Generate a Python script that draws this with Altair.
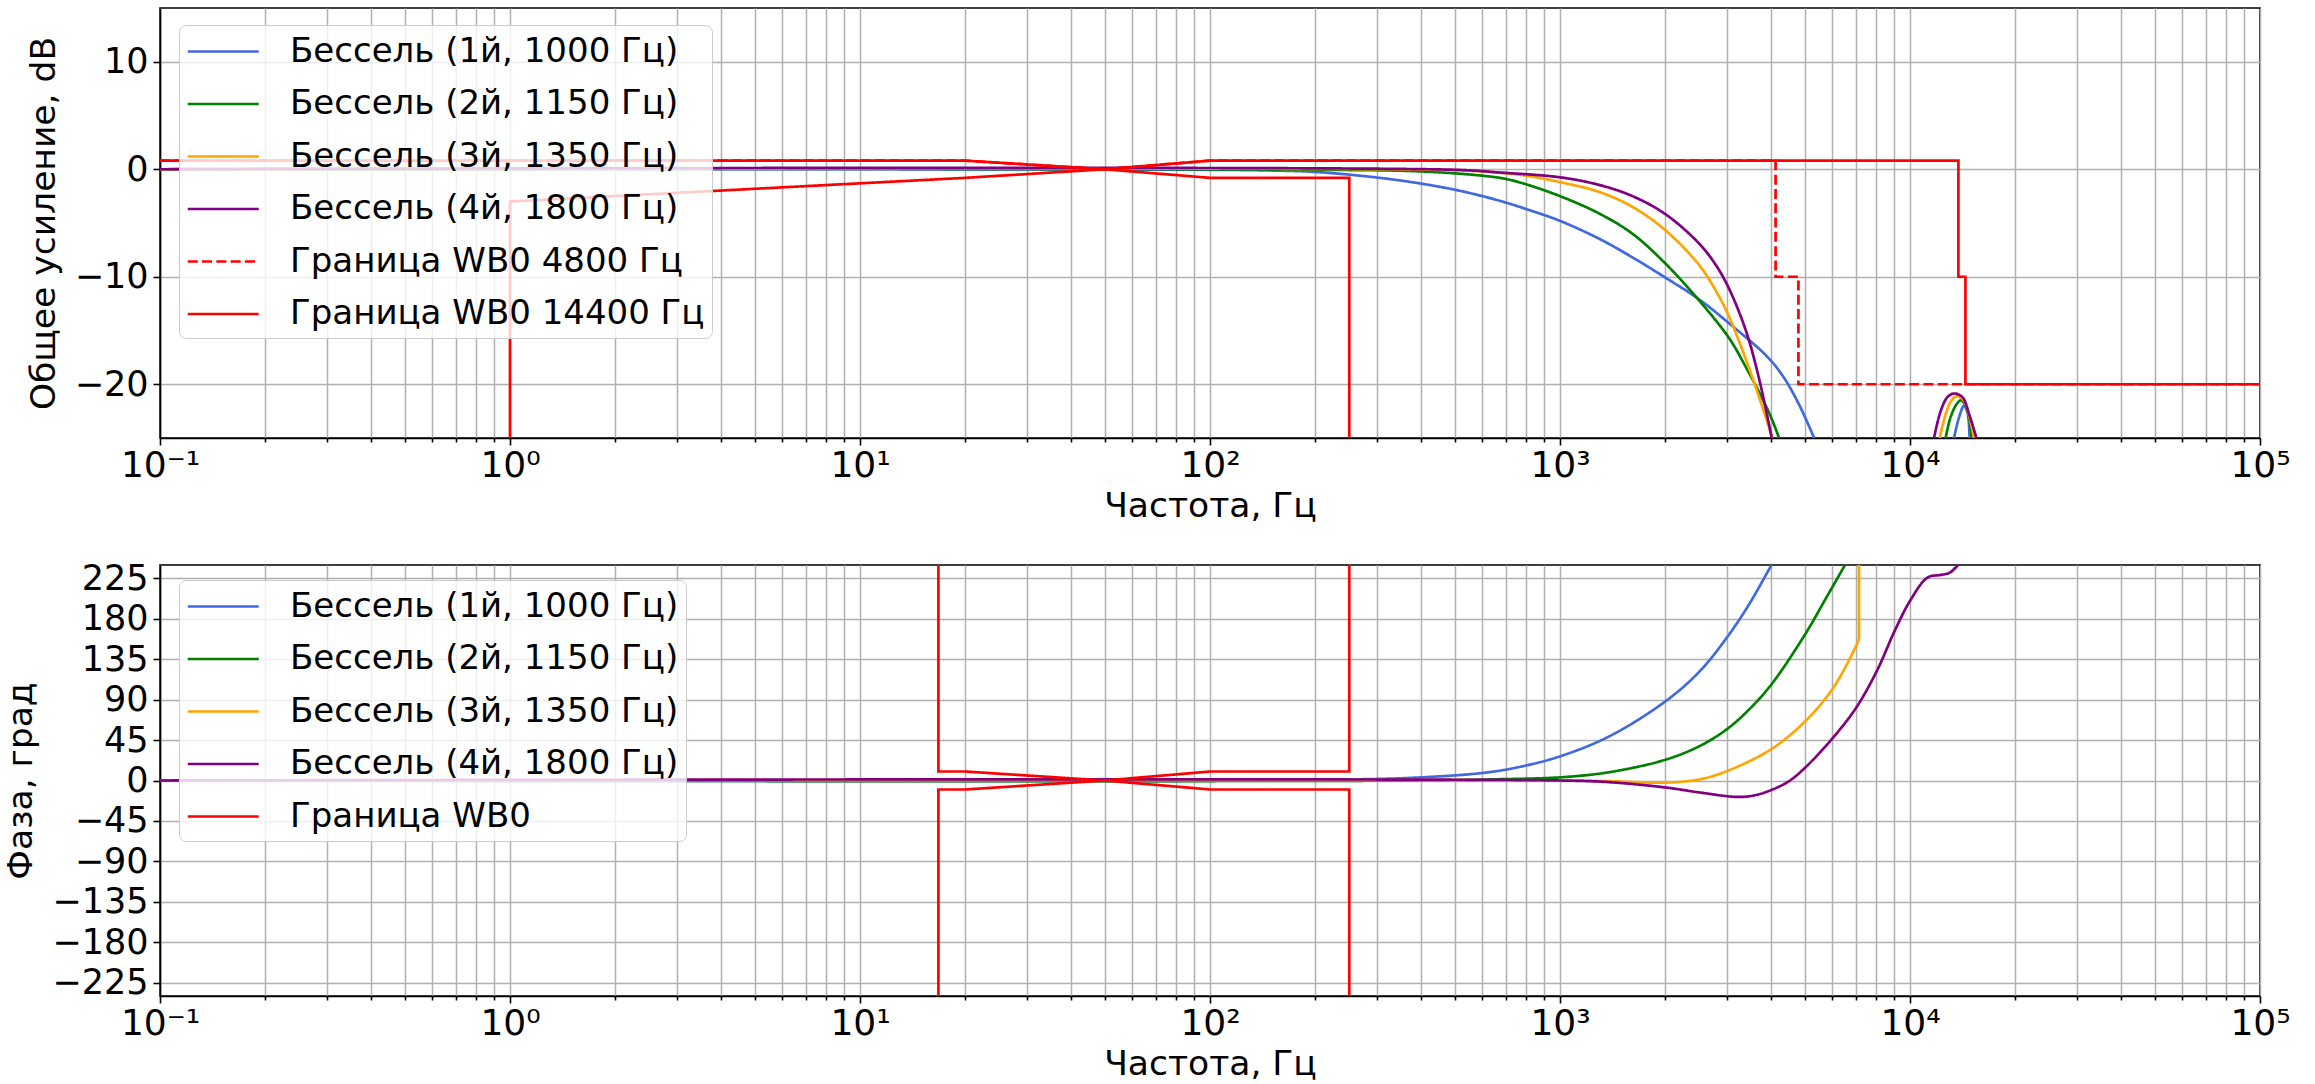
import altair as alt
import pandas as pd

FONT = "DejaVu Sans"

# ---------------- labels / colours ----------------
GAIN_LABELS = ["Бессель (1й, 1000 Гц)", "Бессель (2й, 1150 Гц)", "Бессель (3й, 1350 Гц)",
               "Бессель (4й, 1800 Гц)", "Граница WB0 4800 Гц", "Граница WB0 14400 Гц"]
PHASE_LABELS = ["Бессель (1й, 1000 Гц)", "Бессель (2й, 1150 Гц)", "Бессель (3й, 1350 Гц)",
                "Бессель (4й, 1800 Гц)", "Граница WB0"]
GAIN_COLORS = ["#4169e1", "#008000", "#ffa500", "#800080", "#ff0000", "#ff0000"]
PHASE_COLORS = ["#4169e1", "#008000", "#ffa500", "#800080", "#ff0000"]

X_TITLE = "Частота, Гц"
GAIN_TITLE = "Общее усиление, dB"
PHASE_TITLE = "Фаза, град"

DECADES = [0.1, 1, 10, 100, 1000, 10000]
MULTS = [1, 2, 3, 4, 5, 6, 7, 8, 9]
GAIN_TICKS = [-20, -10, 0, 10]
PHASE_TICKS = [-225, -180, -135, -90, -45, 0, 45, 90, 135, 180, 225]

# ---------------- gain curves (Hz, dB) ----------------
G1_F = [0.1, 100, 150, 200, 300, 400, 500, 600, 700, 800, 1000, 1300, 1611, 2005, 2496, 3111, 3873, 4325, 4822, 5322]
G1_DB = [0, -0.05, -0.12, -0.25, -0.77, -1.33, -1.9, -2.5, -3.1, -3.7, -4.8, -6.5, -8.2, -10.1, -12.1, -14.6, -17.3, -19.2, -21.9, -25]
G2_F = [0.1, 200, 400, 600, 700, 800, 1000, 1291, 1611, 2005, 2496, 3040, 3396, 3700, 4000, 4227]
G2_DB = [0, -0.05, -0.2, -0.6, -0.9, -1.4, -2.5, -4.1, -6.0, -8.8, -12.2, -15.7, -18.4, -20.7, -23.0, -25]
G3_F = [0.1, 400, 600, 800, 1000, 1291, 1611, 2005, 2496, 2787, 3040, 3548, 4046]
G3_DB = [0, -0.03, -0.2, -0.6, -1.2, -2.1, -3.5, -5.7, -8.9, -11.3, -13.7, -19.4, -25]
G4_F = [0.1, 500, 670, 1000, 1291, 1611, 2005, 2496, 2787, 3040, 3396, 3700, 4027]
G4_DB = [0, -0.05, -0.3, -0.75, -1.45, -2.5, -4.2, -6.9, -8.9, -11.1, -15.0, -19.4, -25]

# side lobes near 13-15 kHz
A1_F = [13360, 13800, 14260, 14590, 14800]
A1_DB = [-25, -23.1, -22.0, -22.6, -25]
A2_F = [12640, 13050, 13560, 13960, 14430, 14800, 15000]
A2_DB = [-25, -23.1, -21.9, -21.5, -22.0, -23.4, -25]
A3_F = [12157, 12640, 13150, 13650, 14260, 14800, 15230]
A3_DB = [-25, -22.8, -21.5, -21.1, -21.55, -23.1, -25]
A4_F = [11710, 12235, 12790, 13360, 14120, 14760, 15480]
A4_DB = [-25, -22.5, -21.2, -20.86, -21.2, -22.8, -25]

# gain masks
UP4800_F = [0.1, 20, 50, 100, 4130, 4130, 4800, 4800, 100000]
UP4800_DB = [0.8, 0.8, 0, 0.8, 0.8, -10, -10, -20, -20]
UP14400_F = [0.1, 20, 50, 100, 13750, 13750, 14400, 14400, 100000]
UP14400_DB = [0.8, 0.8, 0, 0.8, 0.8, -10, -10, -20, -20]
LOW_F = [1, 1, 20, 50, 100, 250, 250]
LOW_DB = [-25, -3, -0.8, 0, -0.8, -0.8, -25]

# ---------------- phase curves (Hz, deg) ----------------
P1_F = [0.1, 150, 237, 378, 604, 764, 1009, 1395, 2014, 2512, 2995, 3467, 4018]
P1_DEG = [0, 0, 1, 3, 8.5, 15, 27.4, 50, 89, 122, 159, 196, 240]
P2_F = [0.1, 400, 670, 1009, 1395, 2014, 2512, 2995, 3467, 4018, 5020, 5715, 6520]
P2_DEG = [0, 0, 1.4, 3.6, 9.5, 23.5, 38.6, 57, 79, 107, 163, 201, 240]
P3_F = [0.1, 1000, 1395, 2014, 2512, 3008, 4018, 5020, 6030, 7015, 7150]
P3_DEG = [0, 0, -0.8, -2.3, 1.4, 10.7, 35, 66, 103, 150, 158]
P3_JUMP_F = [7150, 7150]
P3_JUMP_DEG = [158, 240]
P4_F = [0.1, 1000, 1400, 2014, 2512, 3222, 3600, 4018, 4500, 5020, 6030, 7015, 8040, 9040, 10000, 11220, 12270, 13000, 13700]
P4_DEG = [0, 0, -2, -7.9, -13.4, -18.3, -16.5, -10.5, -1, 14.4, 47.8, 81, 122, 166.6, 200, 226, 229, 231.5, 240]

# phase masks
PUP_F = [16.75, 16.75, 20, 50, 100, 250, 250]
PUP_DEG = [240, 10, 10, 0, 10, 10, 240]
PLOW_F = [16.75, 16.75, 20, 50, 100, 250, 250]
PLOW_DEG = [-240, -10, -10, 0, -10, -10, -240]


def rows(label, seg, fs, vs):
    return [{"f": f, "v": v, "s": label, "seg": seg, "idx": i} for i, (f, v) in enumerate(zip(fs, vs))]


gain_curves = pd.DataFrame(
    rows(GAIN_LABELS[0], "a", G1_F, G1_DB) + rows(GAIN_LABELS[0], "b", A1_F, A1_DB)
    + rows(GAIN_LABELS[1], "a", G2_F, G2_DB) + rows(GAIN_LABELS[1], "b", A2_F, A2_DB)
    + rows(GAIN_LABELS[2], "a", G3_F, G3_DB) + rows(GAIN_LABELS[2], "b", A3_F, A3_DB)
    + rows(GAIN_LABELS[3], "a", G4_F, G4_DB) + rows(GAIN_LABELS[3], "b", A4_F, A4_DB)
)
gain_dashed = pd.DataFrame(rows(GAIN_LABELS[4], "up", UP4800_F, UP4800_DB))
gain_solid = pd.DataFrame(rows(GAIN_LABELS[5], "up", UP14400_F, UP14400_DB)
                          + rows(GAIN_LABELS[5], "low", LOW_F, LOW_DB))

phase_curves = pd.DataFrame(
    rows(PHASE_LABELS[0], "a", P1_F, P1_DEG) + rows(PHASE_LABELS[1], "a", P2_F, P2_DEG)
    + rows(PHASE_LABELS[2], "a", P3_F, P3_DEG) + rows(PHASE_LABELS[3], "a", P4_F, P4_DEG)
)
phase_jump = pd.DataFrame(rows(PHASE_LABELS[2], "j", P3_JUMP_F, P3_JUMP_DEG))
phase_mask = pd.DataFrame(rows(PHASE_LABELS[4], "up", PUP_F, PUP_DEG)
                          + rows(PHASE_LABELS[4], "low", PLOW_F, PLOW_DEG))

XTICKS = [d * m for d in DECADES for m in MULTS] + [100000]
MAJOR = "abs(log(datum.value)/LN10 - round(log(datum.value)/LN10)) < 0.001"
SUP = "['\u207b\u00b9','\u2070','\u00b9','\u00b2','\u00b3','\u2074','\u2075'][round(log(datum.value)/LN10)+1]"

LW = 2.7
W = 2100
TICK_FS = 35
TITLE_FS = 34.5
LEG_FS = 34


def x_enc():
    return alt.X("f:Q", scale=alt.Scale(type="log", domain=[0.1, 100000], nice=False),
                 axis=alt.Axis(values=XTICKS, title=X_TITLE,
                               labelExpr=f"{MAJOR} ? '10' + {SUP} : ''",
                               labelFontSize=TICK_FS + 1,
                               tickSize={"condition": {"test": MAJOR, "value": 7}, "value": 4},
                               labelFlush=False, labelOverlap=False, labelPadding=3,
                               titlePadding=6))


def legend(ly):
    return alt.Legend(title=None, orient="none", legendX=19, legendY=ly,
                      symbolType="M-1,0H3", symbolSize=1260, symbolStrokeWidth=LW,
                      labelFontSize=LEG_FS, labelFont=FONT, labelOffset=65, labelLimit=2000,
                      padding=7, rowPadding=15.5, fillColor="rgba(255,255,255,0.8)",
                      strokeColor="#cccccc", cornerRadius=7)


def color_dash(labels, colors, dashes, ly):
    lg = legend(ly)
    return dict(
        color=alt.Color("s:N", scale=alt.Scale(domain=labels, range=colors), legend=lg),
        strokeDash=alt.StrokeDash("s:N", scale=alt.Scale(domain=labels, range=dashes), legend=lg),
    )


GAIN_DASHES = [[1, 0], [1, 0], [1, 0], [1, 0], [10, 4.3], [1, 0]]
PHASE_DASHES = [[1, 0], [1, 0], [1, 0], [1, 0], [1, 0]]

y_gain = alt.Y("v:Q", scale=alt.Scale(domain=[-25, 15], nice=False, zero=False),
               axis=alt.Axis(values=GAIN_TICKS, title=GAIN_TITLE, tickSize=7,
                             labelPadding=5, titlePadding=13))
y_phase = alt.Y("v:Q", scale=alt.Scale(domain=[-240, 240], nice=False, zero=False),
                axis=alt.Axis(values=PHASE_TICKS, title=PHASE_TITLE, tickSize=7,
                              labelPadding=5, titlePadding=13))

cg = color_dash(GAIN_LABELS, GAIN_COLORS, GAIN_DASHES, 17)
cp = color_dash(PHASE_LABELS, PHASE_COLORS, PHASE_DASHES, 15)


def smooth(df, y, c):
    return alt.Chart(df).mark_line(strokeWidth=LW, interpolate="catmull-rom", clip=True).encode(
        x=x_enc(), y=y, detail="seg:N", order="idx:Q", **c)


def straight(df, y, c):
    return alt.Chart(df).mark_line(strokeWidth=LW, clip=True).encode(
        x=x_enc(), y=y, detail="seg:N", order="idx:Q", **c)


top = alt.layer(
    smooth(gain_curves, y_gain, cg),
    straight(gain_dashed, y_gain, cg),
    straight(gain_solid, y_gain, cg),
).properties(width=W, height=430)

bottom = alt.layer(
    smooth(phase_curves, y_phase, cp),
    straight(phase_jump, y_phase, cp),
    straight(phase_mask, y_phase, cp),
).properties(width=W, height=431)

chart = alt.vconcat(top, bottom, spacing=36).resolve_scale(
    color="independent", strokeDash="independent"
).resolve_legend(color="independent", strokeDash="independent").properties(
    padding={"left": 3, "top": 7, "right": 5, "bottom": 2}
).configure(font=FONT).configure_view(
    stroke="black", strokeWidth=1.6
).configure_axis(
    labelFont=FONT, titleFont=FONT, labelFontSize=TICK_FS, titleFontSize=TITLE_FS,
    titleFontWeight="normal", labelColor="black", titleColor="black",
    domainColor="black", domainWidth=1.6, tickColor="black", tickWidth=1.6,
    gridColor="#b0b0b0", gridWidth=1.5, grid=True
)

chart.save("out.html", embed_options={"renderer": "svg", "actions": False})
